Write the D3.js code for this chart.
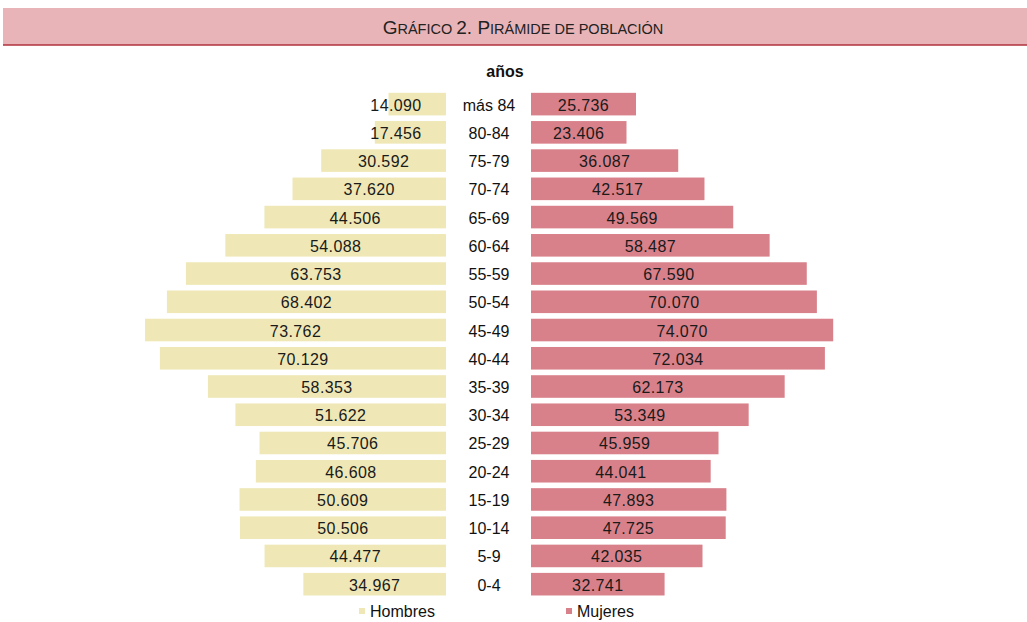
<!DOCTYPE html>
<html>
<head>
<meta charset="utf-8">
<script src="https://cdn.jsdelivr.net/npm/d3@7"></script>
<style>
  body { margin: 0; background: #fff; }
  svg { display: block; font-family: "Liberation Sans", Arial, sans-serif; }
</style>
</head>
<body>
<svg id="chart" width="1027" height="622"></svg>
<script>
const ages = ['más 84', '80-84', '75-79', '70-74', '65-69', '60-64', '55-59', '50-54', '45-49',
  '40-44', '35-39', '30-34', '25-29', '20-24', '15-19', '10-14', '5-9', '0-4'];
const hombres = [14090, 17456, 30592, 37620, 44506, 54088, 63753, 68402, 73762,
  70129, 58353, 51622, 45706, 46608, 50609, 50506, 44477, 34967];
const mujeres = [25736, 23406, 36087, 42517, 49569, 58487, 67590, 70070, 74070,
  72034, 62173, 53349, 45959, 44041, 47893, 47725, 42035, 32741];

const fmt = v => d3.format(',')(v).replace(/,/g, '.');

const svg = d3.select('#chart');

// header band
svg.append('rect')
  .attr('x', 3).attr('y', 8).attr('width', 1030).attr('height', 37)
  .attr('fill', '#e8b4b8');
svg.append('line')
  .attr('x1', 3).attr('x2', 1027).attr('y1', 45).attr('y2', 45)
  .attr('stroke', '#b0303c').attr('stroke-width', 1.5);

const title = svg.append('text')
  .attr('x', 523).attr('y', 34)
  .attr('text-anchor', 'middle')
  .attr('fill', '#222')
  .style('font-family', '"Liberation Sans Narrow", "Liberation Sans", Arial, sans-serif');
[['G', 19], ['RÁFICO ', 14.5], ['2. P', 19], ['IRÁMIDE DE POBLACIÓN', 14.5]].forEach(p => {
  title.append('tspan').style('font-size', p[1] + 'px').text(p[0]);
});

svg.append('text')
  .attr('x', 505).attr('y', 77)
  .attr('text-anchor', 'middle')
  .style('font-size', '16px').style('font-weight', 'bold')
  .attr('fill', '#111')
  .text('años');

const y = d3.scaleBand()
  .domain(ages)
  .range([90, 598.3])
  .paddingInner(0.2)
  .paddingOuter(0.1);

const x = d3.scaleLinear().domain([0, 75000]).range([0, 306]);

const leftEdge = 446, rightEdge = 531, midX = 489;

const rows = ages.map((a, i) => ({ age: a, h: hombres[i], m: mujeres[i] }));

const g = svg.append('g');

g.selectAll('rect.h')
  .data(rows).enter().append('rect')
  .attr('class', 'h')
  .attr('x', d => leftEdge - x(d.h))
  .attr('y', d => y(d.age))
  .attr('width', d => x(d.h))
  .attr('height', y.bandwidth())
  .attr('fill', '#efe8b6');

g.selectAll('rect.m')
  .data(rows).enter().append('rect')
  .attr('class', 'm')
  .attr('x', rightEdge)
  .attr('y', d => y(d.age))
  .attr('width', d => x(d.m))
  .attr('height', y.bandwidth())
  .attr('fill', '#d9818a');

const cy = d => y(d.age) + y.bandwidth() / 2 + 6.5;

g.selectAll('text.hl')
  .data(rows).enter().append('text')
  .attr('class', 'hl')
  .attr('x', d => Math.min(leftEdge - x(d.h) / 2, leftEdge - 50))
  .attr('y', cy)
  .attr('text-anchor', 'middle')
  .style('font-size', '16px')
  .style('letter-spacing', '0.4px')
  .attr('fill', '#1a1a1a')
  .text(d => fmt(d.h));

g.selectAll('text.ml')
  .data(rows).enter().append('text')
  .attr('class', 'ml')
  .attr('x', d => rightEdge + x(d.m) / 2)
  .attr('y', cy)
  .attr('text-anchor', 'middle')
  .style('font-size', '16px')
  .style('letter-spacing', '0.4px')
  .attr('fill', '#1a1a1a')
  .text(d => fmt(d.m));

g.selectAll('text.age')
  .data(rows).enter().append('text')
  .attr('class', 'age')
  .attr('x', midX)
  .attr('y', cy)
  .attr('text-anchor', 'middle')
  .style('font-size', '16px')
  .attr('fill', '#111')
  .text(d => d.age);

// legend
const legend = [
  { label: 'Hombres', color: '#efe8b6', x: 359 },
  { label: 'Mujeres', color: '#d9818a', x: 566 }
];
const lg = svg.append('g').selectAll('g').data(legend).enter().append('g')
  .attr('transform', d => 'translate(' + d.x + ',611)');
lg.append('rect').attr('x', 0).attr('y', -3).attr('width', 6).attr('height', 6)
  .attr('fill', d => d.color);
lg.append('text').attr('x', 11).attr('y', 5.5)
  .style('font-size', '16px').attr('fill', '#111')
  .text(d => d.label);
</script>
</body>
</html>
